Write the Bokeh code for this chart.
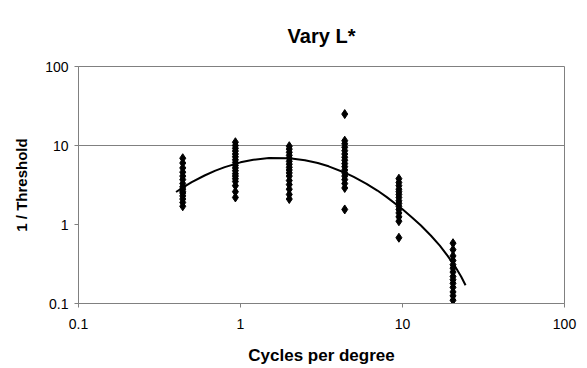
from bokeh.plotting import figure
from bokeh.embed import file_html
from bokeh.resources import INLINE
from bokeh.models import FixedTicker, CustomJSTickFormatter, ColumnDataSource

# Spatial frequencies (cycles per degree) of the measured clusters
freqs = [0.44, 0.93, 2.0, 4.4, 9.5, 20.5]
# 1 / Threshold values per frequency
vals_044 = [6.9, 6.0, 5.2, 4.6, 4.1, 3.7, 3.3, 3.0, 2.8, 2.6, 2.5, 2.3, 2.1, 1.9, 1.7]
vals_093 = [11.0, 10.0, 9.2, 8.5, 7.8, 7.2, 6.6, 6.1, 5.6, 5.2, 4.8, 4.4, 4.1, 3.8, 3.5, 3.1, 2.6, 2.2]
vals_200 = [9.8, 9.0, 8.2, 7.5, 6.9, 6.3, 5.8, 5.3, 4.9, 4.5, 4.1, 3.6, 3.2, 2.8, 2.4, 2.1]
vals_440 = [25.0, 11.5, 10.5, 9.5, 8.6, 7.8, 7.1, 6.5, 5.9, 5.4, 4.9, 4.5, 4.1, 3.7, 3.3, 2.9, 1.55]
vals_950 = [3.8, 3.4, 3.1, 2.8, 2.6, 2.4, 2.2, 2.0, 1.85, 1.7, 1.55, 1.4, 1.25, 1.1, 0.68]
vals_2050 = [0.58, 0.48, 0.40, 0.35, 0.31, 0.28, 0.25, 0.22, 0.20, 0.18, 0.16, 0.14, 0.125, 0.11]

# Fitted curve
fit_x = [0.40, 0.45, 0.5, 0.6, 0.7, 0.8, 1.0, 1.2, 1.5, 2.0, 2.5, 3.0, 3.5, 4.5, 5.0,
         6.0, 7.0, 8.0, 10.0, 11.5, 13.0, 15.0, 17.0, 19.0, 21.0, 23.0, 24.5]
fit_y = [2.58, 3.01, 3.43, 4.17, 4.81, 5.33, 6.12, 6.6, 6.95, 6.91, 6.5, 6.0, 5.45, 4.45, 4.0,
         3.27, 2.69, 2.22, 1.56, 1.22, 0.97, 0.72, 0.54, 0.40, 0.30, 0.22, 0.17]

x_ticks = [0.1, 1, 10, 100]
y_ticks = [0.1, 1, 10, 100]

groups = [vals_044, vals_093, vals_200, vals_440, vals_950, vals_2050]
xs, ys = [], []
for f, g in zip(freqs, groups):
    xs += [f] * len(g)
    ys += g
src = ColumnDataSource(dict(x=xs, y=ys))

FONT = "Liberation Sans"
GRAY = "#808080"

p = figure(width=579, height=367, x_axis_type="log", y_axis_type="log",
           x_range=(0.1, 100), y_range=(0.1, 100),
           output_backend="svg", toolbar_location=None,
           min_border_left=78, min_border_right=15, min_border_top=66, min_border_bottom=56,
           title="Vary L*")

p.title.align = "center"
p.title.text_font = FONT
p.title.text_font_size = "20px"
p.title.text_font_style = "bold"
p.title.text_color = "black"
p.title.standoff = 40

p.outline_line_color = GRAY
p.outline_line_width = 1
p.background_fill_color = "white"
p.border_fill_color = "white"

p.xgrid.grid_line_color = None
p.ygrid.grid_line_color = GRAY
p.ygrid.ticker = FixedTicker(ticks=[10, 100])

for ax, ticks in ((p.xaxis[0], x_ticks), (p.yaxis[0], y_ticks)):
    ax.ticker = FixedTicker(ticks=ticks)
    ax.formatter = CustomJSTickFormatter(code="return tick.toString();")
    ax.axis_line_color = GRAY
    ax.major_tick_line_color = GRAY
    ax.major_tick_out = 4
    ax.major_tick_in = 0
    ax.minor_tick_line_color = None
    ax.major_label_text_font = FONT
    ax.major_label_text_font_size = "14px"
    ax.major_label_text_color = "black"
    ax.axis_label_text_font = FONT
    ax.axis_label_text_font_style = "bold"
    ax.axis_label_text_color = "black"

p.xaxis.axis_label = "Cycles per degree"
p.yaxis.axis_label = "1 / Threshold"
p.xaxis.axis_label_text_font_size = "17px"
p.yaxis.axis_label_text_font_size = "15px"
p.xaxis.major_label_standoff = 11
p.yaxis.major_label_standoff = 6
p.xaxis.axis_label_standoff = 14
p.yaxis.axis_label_standoff = 12

p.line(fit_x, fit_y, line_color="black", line_width=2)
p.scatter("x", "y", source=src, marker="diamond", size=9,
          fill_color="black", line_color="black")

open("out.html", "w").write(file_html(p, INLINE))
